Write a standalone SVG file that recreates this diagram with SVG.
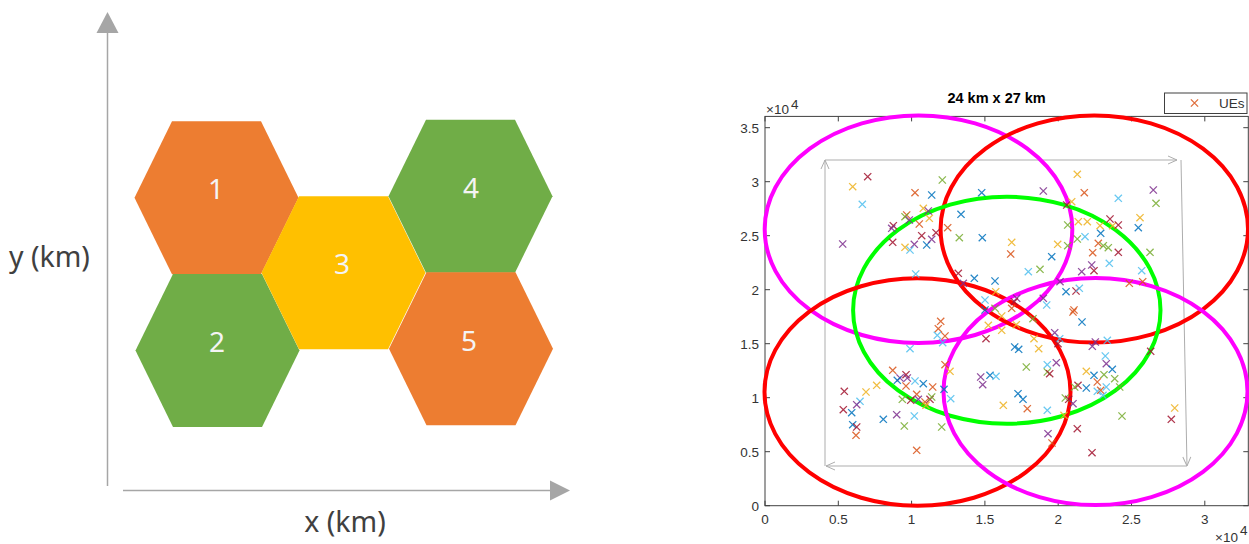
<svg xmlns="http://www.w3.org/2000/svg" width="1249" height="544" viewBox="0 0 1249 544">
<style>
.hx-o{fill:#ED7D31}
.hx-g{fill:#70AD47}
.hx-y{fill:#FFC000}
.num{font-family:"Noto Sans","Open Sans",sans-serif;font-size:28px;fill:#F4F4F4;text-anchor:middle}
.axlbl{font-family:"Noto Sans","Open Sans",sans-serif;font-size:28.5px;fill:#404040}
.axarrow{stroke:#A6A6A6;stroke-width:1.5;fill:none}
.tick{font-family:"Liberation Sans",Arial,sans-serif;font-size:13.5px;fill:#333}
.frame{stroke:#ADADAD;stroke-width:1;fill:none}
.ell{fill:none;stroke-width:4}
.pts use{fill:none;stroke-width:1.3;opacity:0.85}
.b{stroke:#0072BD}.o{stroke:#D95319}.y{stroke:#EDB120}.p{stroke:#7E2F8E}.g{stroke:#77AC30}.c{stroke:#4DBEEE}.r{stroke:#A2142F}
</style>
<defs>
<path id="x" d="M-3.6,-3.6L3.6,3.6M-3.6,3.6L3.6,-3.6"/>
<marker id="ah" viewBox="0 0 10 10" markerWidth="10" markerHeight="10" refX="10" refY="5" orient="auto" markerUnits="userSpaceOnUse">
<path d="M1,1L10,5L1,9" fill="none" stroke="#ADADAD" stroke-width="1"/>
</marker>
</defs>
<rect width="1249" height="544" fill="#fff"/>

<!-- Left diagram -->
<g id="hex1"><polygon class="hx-o" points="134.5,197.8 172,121.3 261,121.3 298.5,197.8 261,274.3 172,274.3"/><text class="num" x="216" y="199">1</text></g>
<g id="hex2"><polygon class="hx-g" points="135.5,350.6 173,274.1 262,274.1 299.5,350.6 262,427.1 173,427.1"/><text class="num" x="217" y="352">2</text></g>
<g id="hex3"><polygon class="hx-y" points="261.5,272.8 299,196.3 388,196.3 425.5,272.8 388,349.3 299,349.3"/><text class="num" x="342" y="273.5">3</text></g>
<g id="hex4"><polygon class="hx-g" points="388.5,196.2 426,119.7 515,119.7 552.5,196.2 515,272.7 426,272.7"/><text class="num" x="471" y="198">4</text></g>
<g id="hex5"><polygon class="hx-o" points="389,348.8 426.5,272.3 515.5,272.3 553,348.8 515.5,425.3 426.5,425.3"/><text class="num" x="469" y="351">5</text></g>

<g id="connectors">
<line class="axarrow" x1="107.5" y1="486" x2="107.5" y2="32"/>
<polygon points="96.5,33 107.5,12 118.5,33" fill="#A6A6A6"/>
<line class="axarrow" x1="123" y1="490.5" x2="551" y2="490.5"/>
<polygon points="550,480.5 570,490.5 550,500.5" fill="#A6A6A6"/>
</g>
<text class="axlbl" x="9" y="267">y (km)</text>
<text class="axlbl" x="345" y="532" text-anchor="middle">x (km)</text>

<!-- Right plot -->
<g id="plot">
<text x="996.6" y="103" font-family="Liberation Sans,Arial,sans-serif" font-size="14.5" font-weight="bold" fill="#000" text-anchor="middle">24 km x 27 km</text>
<rect x="765" y="116.4" width="483.3" height="389.3" fill="#fff" stroke="#404040" stroke-width="1"/>
<g stroke="#404040" stroke-width="1">
<path d="M765,505.7v-5M838.3,505.7v-5M911.6,505.7v-5M984.9,505.7v-5M1058.2,505.7v-5M1131.5,505.7v-5M1204.8,505.7v-5"/>
<path d="M765,116.4v5M838.3,116.4v5M911.6,116.4v5M984.9,116.4v5M1058.2,116.4v5M1131.5,116.4v5M1204.8,116.4v5"/>
<path d="M765,505.7h5M765,451.7h5M765,397.7h5M765,343.7h5M765,289.7h5M765,235.7h5M765,181.7h5M765,127.7h5"/>
<path d="M1248.3,505.7h-5M1248.3,451.7h-5M1248.3,397.7h-5M1248.3,343.7h-5M1248.3,289.7h-5M1248.3,235.7h-5M1248.3,181.7h-5M1248.3,127.7h-5"/>
</g>
<g class="tick" text-anchor="end">
<text x="759" y="510.5">0</text><text x="759" y="456.5">0.5</text><text x="759" y="402.5">1</text><text x="759" y="348.5">1.5</text>
<text x="759" y="294.5">2</text><text x="759" y="240.5">2.5</text><text x="759" y="186.5">3</text><text x="759" y="132.5">3.5</text>
</g>
<g class="tick" text-anchor="middle">
<text x="765" y="524">0</text><text x="838.3" y="524">0.5</text><text x="911.6" y="524">1</text><text x="984.9" y="524">1.5</text>
<text x="1058.2" y="524">2</text><text x="1131.5" y="524">2.5</text><text x="1204.8" y="524">3</text>
</g>
<text class="tick" x="766" y="113.7">×10</text><text class="tick" x="791" y="108.5" font-size="9.5">4</text>
<text class="tick" x="1215" y="542">×10</text><text class="tick" x="1240" y="535" font-size="9.5">4</text>

<g id="frame">
<line class="frame" x1="825" y1="466" x2="825" y2="160" marker-end="url(#ah)"/>
<line class="frame" x1="825" y1="160" x2="1177" y2="160" marker-end="url(#ah)"/>
<line class="frame" x1="1181" y1="160" x2="1187" y2="466" marker-end="url(#ah)"/>
<line class="frame" x1="1187" y1="466" x2="826" y2="466" marker-end="url(#ah)"/>
</g>

<g id="coverage">
<ellipse class="ell" cx="918.5" cy="229.2" rx="153.8" ry="113.8" stroke="#FF00FF"/>
<ellipse class="ell" cx="1094.3" cy="229" rx="153.7" ry="113.6" stroke="#FF0000"/>
<ellipse class="ell" cx="1006.8" cy="310.2" rx="153.7" ry="113.5" stroke="#00FF00"/>
<ellipse class="ell" cx="917.5" cy="392" rx="153" ry="113.7" stroke="#FF0000"/>
<ellipse class="ell" cx="1095.5" cy="391.6" rx="152" ry="113.5" stroke="#FF00FF"/>
</g>

<g class="pts" id="ues">
<use href="#x" class="r" x="867.7" y="176.7"/><use href="#x" class="y" x="852.7" y="186.7"/><use href="#x" class="g" x="942.3" y="180"/>
<use href="#x" class="o" x="915" y="192.7"/><use href="#x" class="b" x="931.7" y="195"/><use href="#x" class="c" x="862.3" y="204.3"/>
<use href="#x" class="o" x="906.7" y="215"/><use href="#x" class="g" x="905" y="216.7"/><use href="#x" class="y" x="923.3" y="208.3"/>
<use href="#x" class="p" x="928.3" y="211"/><use href="#x" class="y" x="929.3" y="218.3"/><use href="#x" class="p" x="909.3" y="220"/>
<use href="#x" class="o" x="919.3" y="224"/><use href="#x" class="r" x="893.3" y="225.7"/><use href="#x" class="p" x="891.7" y="228.3"/>
<use href="#x" class="r" x="892.7" y="242.3"/><use href="#x" class="r" x="921.7" y="235.7"/><use href="#x" class="p" x="914.3" y="244.3"/>
<use href="#x" class="y" x="905" y="247.3"/><use href="#x" class="c" x="910" y="250"/><use href="#x" class="b" x="926.7" y="245"/>
<use href="#x" class="p" x="931.7" y="239.3"/><use href="#x" class="r" x="936" y="232.7"/><use href="#x" class="p" x="842.7" y="244"/>
<use href="#x" class="c" x="915.7" y="274"/>
<use href="#x" class="b" x="981.7" y="192.7"/><use href="#x" class="p" x="1043.3" y="191"/><use href="#x" class="b" x="961" y="214.3"/>
<use href="#x" class="r" x="1066.7" y="205"/><use href="#x" class="o" x="947.7" y="227.7"/><use href="#x" class="g" x="959.3" y="237.7"/>
<use href="#x" class="b" x="982.3" y="237.7"/><use href="#x" class="y" x="1011.7" y="242.3"/><use href="#x" class="o" x="1010.7" y="254"/>
<use href="#x" class="g" x="1067.7" y="225"/><use href="#x" class="y" x="1057.7" y="244.3"/><use href="#x" class="g" x="1067.7" y="245.7"/>
<use href="#x" class="b" x="1051.7" y="256.7"/><use href="#x" class="c" x="1028.3" y="271.7"/><use href="#x" class="g" x="1040" y="269.3"/>
<use href="#x" class="r" x="958.3" y="273.3"/><use href="#x" class="p" x="963.3" y="283.3"/><use href="#x" class="b" x="974.3" y="278.3"/>
<use href="#x" class="b" x="995" y="281"/><use href="#x" class="y" x="995.7" y="291.7"/><use href="#x" class="p" x="1060" y="281.7"/>
<use href="#x" class="b" x="1066" y="291.7"/><use href="#x" class="c" x="985" y="300"/><use href="#x" class="p" x="1016.7" y="298.3"/>
<use href="#x" class="r" x="1014.3" y="301.7"/><use href="#x" class="p" x="1043.3" y="298.3"/><use href="#x" class="c" x="1046.7" y="305"/>
<use href="#x" class="b" x="985" y="310"/><use href="#x" class="g" x="995" y="308.3"/><use href="#x" class="o" x="1011.7" y="308.3"/>
<use href="#x" class="y" x="1077.3" y="174.3"/><use href="#x" class="o" x="1084.3" y="192.7"/><use href="#x" class="p" x="1153.3" y="190"/>
<use href="#x" class="c" x="1118.3" y="198.3"/><use href="#x" class="g" x="1156" y="203.3"/><use href="#x" class="y" x="1071.7" y="201.7"/>
<use href="#x" class="y" x="1078.3" y="221.7"/><use href="#x" class="y" x="1087.3" y="221.7"/><use href="#x" class="r" x="1110" y="219"/>
<use href="#x" class="y" x="1140" y="217.7"/><use href="#x" class="b" x="1138.3" y="227.7"/><use href="#x" class="y" x="1100" y="225.7"/>
<use href="#x" class="y" x="1112.7" y="225.7"/><use href="#x" class="r" x="1118.3" y="225"/><use href="#x" class="b" x="1100.7" y="233.3"/>
<use href="#x" class="c" x="1085" y="236.7"/><use href="#x" class="g" x="1077.3" y="239"/><use href="#x" class="o" x="1098.3" y="243.3"/>
<use href="#x" class="g" x="1103.3" y="245.7"/><use href="#x" class="g" x="1108.3" y="247.7"/><use href="#x" class="o" x="1092.7" y="252.7"/>
<use href="#x" class="r" x="1118.3" y="252.3"/><use href="#x" class="g" x="1150" y="252.3"/><use href="#x" class="c" x="1109.3" y="263.3"/>
<use href="#x" class="p" x="1091.7" y="265"/><use href="#x" class="r" x="1094" y="270.7"/><use href="#x" class="p" x="1081.7" y="271.7"/>
<use href="#x" class="c" x="1141.7" y="270.7"/><use href="#x" class="o" x="1142.7" y="281.7"/><use href="#x" class="o" x="1129.3" y="283.3"/>
<use href="#x" class="r" x="1076" y="291"/><use href="#x" class="c" x="1079.3" y="288.3"/><use href="#x" class="o" x="1074" y="310"/>
<use href="#x" class="o" x="940.7" y="321.3"/><use href="#x" class="o" x="938.3" y="328.7"/><use href="#x" class="c" x="937.3" y="335.3"/>
<use href="#x" class="o" x="945" y="336"/><use href="#x" class="c" x="942.7" y="342.7"/><use href="#x" class="c" x="910" y="348.7"/>
<use href="#x" class="y" x="988.3" y="325.3"/><use href="#x" class="y" x="1001.7" y="330.3"/><use href="#x" class="r" x="986" y="338.7"/>
<use href="#x" class="y" x="1001.7" y="316"/><use href="#x" class="o" x="945" y="364.7"/><use href="#x" class="y" x="950" y="371.3"/>
<use href="#x" class="o" x="892.7" y="370.3"/><use href="#x" class="r" x="906" y="374.7"/><use href="#x" class="p" x="900" y="378"/>
<use href="#x" class="b" x="897.3" y="380.3"/><use href="#x" class="p" x="907.3" y="378"/><use href="#x" class="c" x="915" y="381"/>
<use href="#x" class="b" x="923.3" y="383.7"/><use href="#x" class="o" x="932.7" y="387"/><use href="#x" class="o" x="906" y="386"/>
<use href="#x" class="y" x="876.7" y="385.3"/><use href="#x" class="y" x="866" y="392"/><use href="#x" class="r" x="844.3" y="391.3"/>
<use href="#x" class="c" x="860" y="401.3"/><use href="#x" class="p" x="856.7" y="404.7"/><use href="#x" class="r" x="843.3" y="409.7"/>
<use href="#x" class="b" x="851.7" y="412.7"/><use href="#x" class="b" x="852.7" y="424.7"/><use href="#x" class="r" x="856.7" y="427"/>
<use href="#x" class="o" x="856" y="435.3"/><use href="#x" class="o" x="916.7" y="394.3"/><use href="#x" class="g" x="902.3" y="399.3"/>
<use href="#x" class="r" x="910.7" y="400.3"/><use href="#x" class="p" x="918.3" y="399.3"/><use href="#x" class="o" x="925" y="402"/>
<use href="#x" class="r" x="930" y="399.3"/><use href="#x" class="g" x="931.7" y="397"/><use href="#x" class="y" x="926" y="405.3"/>
<use href="#x" class="b" x="883.3" y="419.3"/><use href="#x" class="p" x="896.7" y="414.7"/><use href="#x" class="c" x="914.3" y="416"/>
<use href="#x" class="g" x="904.3" y="426"/><use href="#x" class="g" x="941.7" y="427"/><use href="#x" class="o" x="916.7" y="450.3"/>
<use href="#x" class="b" x="944" y="389.3"/><use href="#x" class="c" x="950.7" y="398.7"/><use href="#x" class="p" x="980.7" y="377"/>
<use href="#x" class="p" x="982.7" y="384.7"/><use href="#x" class="b" x="990" y="375.3"/><use href="#x" class="c" x="996" y="376.3"/>
<use href="#x" class="y" x="1003.3" y="405.3"/>
<use href="#x" class="y" x="1016.3" y="324.7"/><use href="#x" class="g" x="1033" y="318.7"/><use href="#x" class="b" x="1082" y="322"/>
<use href="#x" class="o" x="1073" y="312"/><use href="#x" class="p" x="1054.7" y="332.7"/><use href="#x" class="c" x="1059.7" y="338.7"/>
<use href="#x" class="y" x="1034" y="338.7"/><use href="#x" class="r" x="1058" y="343.7"/><use href="#x" class="b" x="1014.7" y="347"/>
<use href="#x" class="b" x="1018.7" y="349.3"/><use href="#x" class="y" x="1038.7" y="348.7"/><use href="#x" class="p" x="1095.3" y="342"/>
<use href="#x" class="p" x="1092.3" y="346.3"/><use href="#x" class="c" x="1107.3" y="340.3"/><use href="#x" class="r" x="1150.7" y="351.3"/>
<use href="#x" class="c" x="1105.3" y="356"/><use href="#x" class="p" x="1106.3" y="363.7"/><use href="#x" class="b" x="1112.3" y="369.3"/>
<use href="#x" class="g" x="1026.3" y="367"/><use href="#x" class="c" x="1047.3" y="364.7"/><use href="#x" class="p" x="1056.3" y="362.7"/>
<use href="#x" class="g" x="1047.3" y="372"/><use href="#x" class="r" x="1049.7" y="373.7"/><use href="#x" class="y" x="1086.3" y="371.3"/>
<use href="#x" class="b" x="1094" y="375.3"/><use href="#x" class="g" x="1104" y="374.7"/><use href="#x" class="o" x="1097.3" y="382"/>
<use href="#x" class="g" x="1114.7" y="378.7"/><use href="#x" class="g" x="1119.7" y="387"/><use href="#x" class="r" x="1078" y="385.3"/>
<use href="#x" class="g" x="1074.7" y="387"/><use href="#x" class="b" x="1086.3" y="388"/><use href="#x" class="c" x="1097.3" y="391.3"/>
<use href="#x" class="o" x="1100.7" y="390.3"/><use href="#x" class="c" x="1106.3" y="387"/><use href="#x" class="c" x="1103" y="395.3"/>
<use href="#x" class="b" x="1018" y="393.7"/><use href="#x" class="b" x="1023" y="399.3"/><use href="#x" class="o" x="1027.3" y="408.7"/>
<use href="#x" class="c" x="1047.3" y="410.3"/><use href="#x" class="g" x="1065.3" y="398"/><use href="#x" class="r" x="1068.7" y="399.3"/>
<use href="#x" class="p" x="1073" y="403.7"/><use href="#x" class="y" x="1064" y="415.3"/><use href="#x" class="g" x="1122" y="416"/>
<use href="#x" class="y" x="1174.7" y="408"/><use href="#x" class="r" x="1171.3" y="419.3"/><use href="#x" class="r" x="1077.3" y="428.7"/>
<use href="#x" class="p" x="1048" y="433.7"/><use href="#x" class="o" x="1052" y="443"/><use href="#x" class="r" x="1092" y="452.7"/>
</g>

<g id="legend">
<rect x="1164.5" y="93" width="82.5" height="20.5" fill="#fff" stroke="#404040" stroke-width="1"/>
<g class="pts"><use href="#x" class="o" x="1194.5" y="103"/></g>
<text class="tick" x="1219" y="108">UEs</text>
</g>
</g>
</svg>
